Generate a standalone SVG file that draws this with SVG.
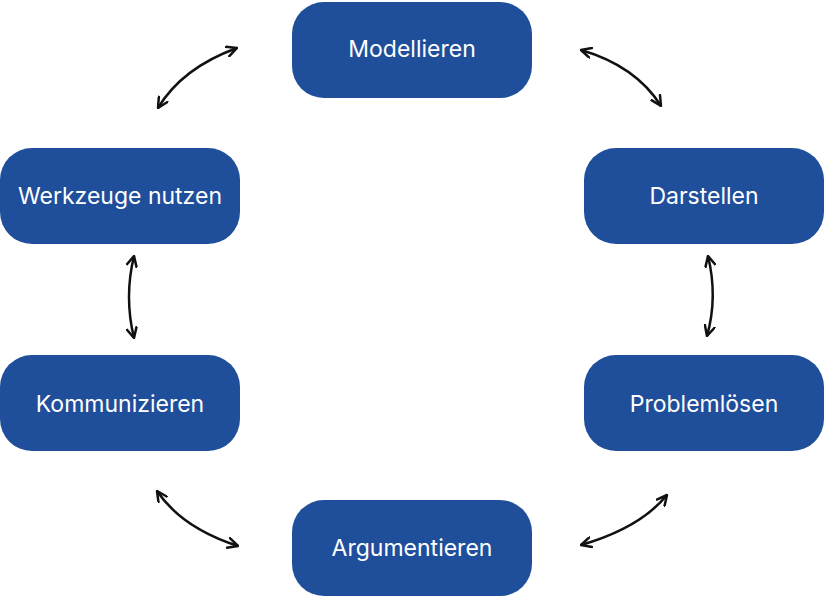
<svg xmlns="http://www.w3.org/2000/svg" width="824" height="598" viewBox="0 0 824 598">
<style>
.n{fill:#1f4e9b}
.t{fill:#fff;font-family:Inter,"Liberation Sans",sans-serif;font-size:23px;text-anchor:middle;dominant-baseline:central}
.c{fill:none;stroke:#111;stroke-width:2.5;marker-start:url(#a);marker-end:url(#a)}
</style>
<defs><marker id="a" viewBox="0 0 12 12" refX="11" refY="6" markerWidth="12" markerHeight="12" markerUnits="userSpaceOnUse" orient="auto-start-reverse"><path d="M1,1 L11,6 L1,11" fill="none" stroke="#111" stroke-width="2.5" stroke-linecap="round" stroke-linejoin="round"/></marker></defs>
<rect width="824" height="598" fill="#fff"/>
<g id="connectors">
<path class="c" d="M581,50 Q636,66 661,106"/>
<path class="c" d="M708,256 Q718,297 707,336"/>
<path class="c" d="M667,495 Q640,528 581,545"/>
<path class="c" d="M157,491 Q182,528 238,546"/>
<path class="c" d="M134,256 Q124,297 134,338"/>
<path class="c" d="M158,108 Q182,68 237,48"/>
</g>
<g id="modellieren"><rect class="n" x="292" y="2" width="240" height="96" rx="32"/><text class="t" x="412" y="49">Modellieren</text></g>
<g id="darstellen"><rect class="n" x="584" y="148" width="240" height="96" rx="32"/><text class="t" x="704" y="196">Darstellen</text></g>
<g id="problemloesen"><rect class="n" x="584" y="355" width="240" height="96" rx="32"/><text class="t" x="704" y="404">Problemlösen</text></g>
<g id="argumentieren"><rect class="n" x="292" y="500" width="240" height="96" rx="32"/><text class="t" x="412" y="548">Argumentieren</text></g>
<g id="kommunizieren"><rect class="n" x="0" y="355" width="240" height="96" rx="32"/><text class="t" x="120" y="404">Kommunizieren</text></g>
<g id="werkzeuge"><rect class="n" x="0" y="148" width="240" height="96" rx="32"/><text class="t" x="120" y="196">Werkzeuge nutzen</text></g>
</svg>
